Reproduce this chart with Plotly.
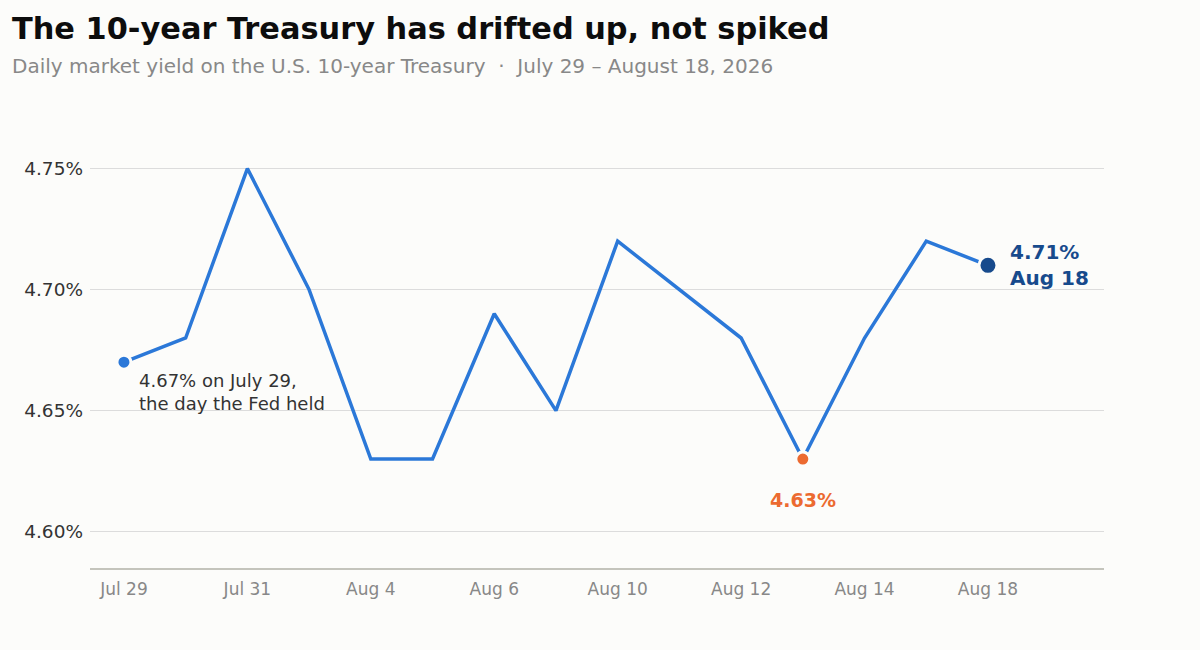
import plotly.graph_objects as go

dates = ["Jul 29", "Jul 30", "Jul 31", "Aug 3", "Aug 4", "Aug 5", "Aug 6", "Aug 7",
         "Aug 10", "Aug 11", "Aug 12", "Aug 13", "Aug 14", "Aug 17", "Aug 18"]
yields = [4.67, 4.68, 4.75, 4.70, 4.63, 4.63, 4.69, 4.65,
          4.72, 4.70, 4.68, 4.63, 4.68, 4.72, 4.71]
tick_dates = ["Jul 29", "Jul 31", "Aug 4", "Aug 6", "Aug 10", "Aug 12", "Aug 14", "Aug 18"]
y_ticks = [4.60, 4.65, 4.70, 4.75]
y_tick_labels = ["4.60%", "4.65%", "4.70%", "4.75%"]

BG = "#fcfcfa"
BLUE = "#2b78d8"
ORANGE = "#ec6a30"
NAVY = "#174a8c"
FONT = "DejaVu Sans"

W, H = 1200, 650
ML, MR, MT, MB = 90, 96, 108, 82
PW, PH = W - ML - MR, H - MT - MB

start_i, low_i, end_i = 0, 11, 14

fig = go.Figure()
fig.add_trace(go.Scatter(x=dates, y=yields, mode="lines",
                         line=dict(color=BLUE, width=3.5), hoverinfo="skip"))
fig.add_trace(go.Scatter(x=[dates[start_i]], y=[yields[start_i]], mode="markers",
                         marker=dict(color=BLUE, size=14, line=dict(color=BG, width=3))))
fig.add_trace(go.Scatter(x=[dates[low_i]], y=[yields[low_i]], mode="markers",
                         marker=dict(color=ORANGE, size=14, line=dict(color=BG, width=3))))
fig.add_trace(go.Scatter(x=[dates[end_i]], y=[yields[end_i]], mode="markers",
                         marker=dict(color=NAVY, size=18, line=dict(color=BG, width=3))))

fig.add_annotation(x=dates[start_i], y=yields[start_i], xref="x", yref="y",
                   text=f"{yields[start_i]:.2f}% on July 29,<br>the day the Fed held",
                   showarrow=False, xanchor="left", yanchor="top", align="left",
                   xshift=13, yshift=-6,
                   font=dict(family=FONT, size=18, color="#333333"))
fig.add_annotation(x=dates[low_i], y=yields[low_i], xref="x", yref="y",
                   text=f"<b>{yields[low_i]:.2f}%</b>", showarrow=False,
                   xanchor="center", yanchor="top", yshift=-28,
                   font=dict(family=FONT, size=19, color=ORANGE))
fig.add_annotation(x=dates[end_i], y=yields[end_i], xref="x", yref="y",
                   text=f"<b>{yields[end_i]:.2f}%</b><br><b>{dates[end_i]}</b>", showarrow=False,
                   xanchor="left", yanchor="middle", align="left", xshift=20,
                   font=dict(family=FONT, size=20, color=NAVY))

fig.add_annotation(x=(10 - ML) / PW, y=1 + (MT - 28) / PH, xref="paper", yref="paper",
                   text="<b>The 10-year Treasury has drifted up, not spiked</b>",
                   showarrow=False, xanchor="left", yanchor="middle",
                   font=dict(family=FONT, size=30.4, color="#0d0d0d"))
fig.add_annotation(x=(10 - ML) / PW, y=1 + (MT - 66) / PH, xref="paper", yref="paper",
                   text="Daily market yield on the U.S. 10-year Treasury  ·  July 29 – August 18, 2026",
                   showarrow=False, xanchor="left", yanchor="middle",
                   font=dict(family=FONT, size=20, color="#888888"))

fig.update_layout(
    width=W, height=H,
    paper_bgcolor=BG, plot_bgcolor=BG,
    margin=dict(l=ML, r=MR, t=MT, b=MB),
    showlegend=False,
    font=dict(family=FONT, color="#333333"),
)

fig.update_xaxes(type="category", categoryorder="array", categoryarray=dates,
                 range=[-0.55, 15.88], tickmode="array", tickvals=tick_dates,
                 ticktext=tick_dates, showgrid=False, showline=True, linecolor="#c4c4bc",
                 linewidth=1.5, ticks="outside", ticklen=5, tickcolor="rgba(0,0,0,0)",
                 tickfont=dict(family=FONT, size=17, color="#888888"), zeroline=False)
fig.update_yaxes(range=[4.585, 4.775], tickmode="array", tickvals=y_ticks,
                 ticktext=y_tick_labels, showgrid=True, gridcolor="#dcdcdc", gridwidth=1,
                 showline=False, zeroline=False, ticks="", ticklabelstandoff=6,
                 tickfont=dict(family=FONT, size=18.5, color="#333333"))

fig.write_html("out.html", config={"displayModeBar": False},
               post_script="document.body.style.margin='0';document.body.style.background='" + BG + "';")
